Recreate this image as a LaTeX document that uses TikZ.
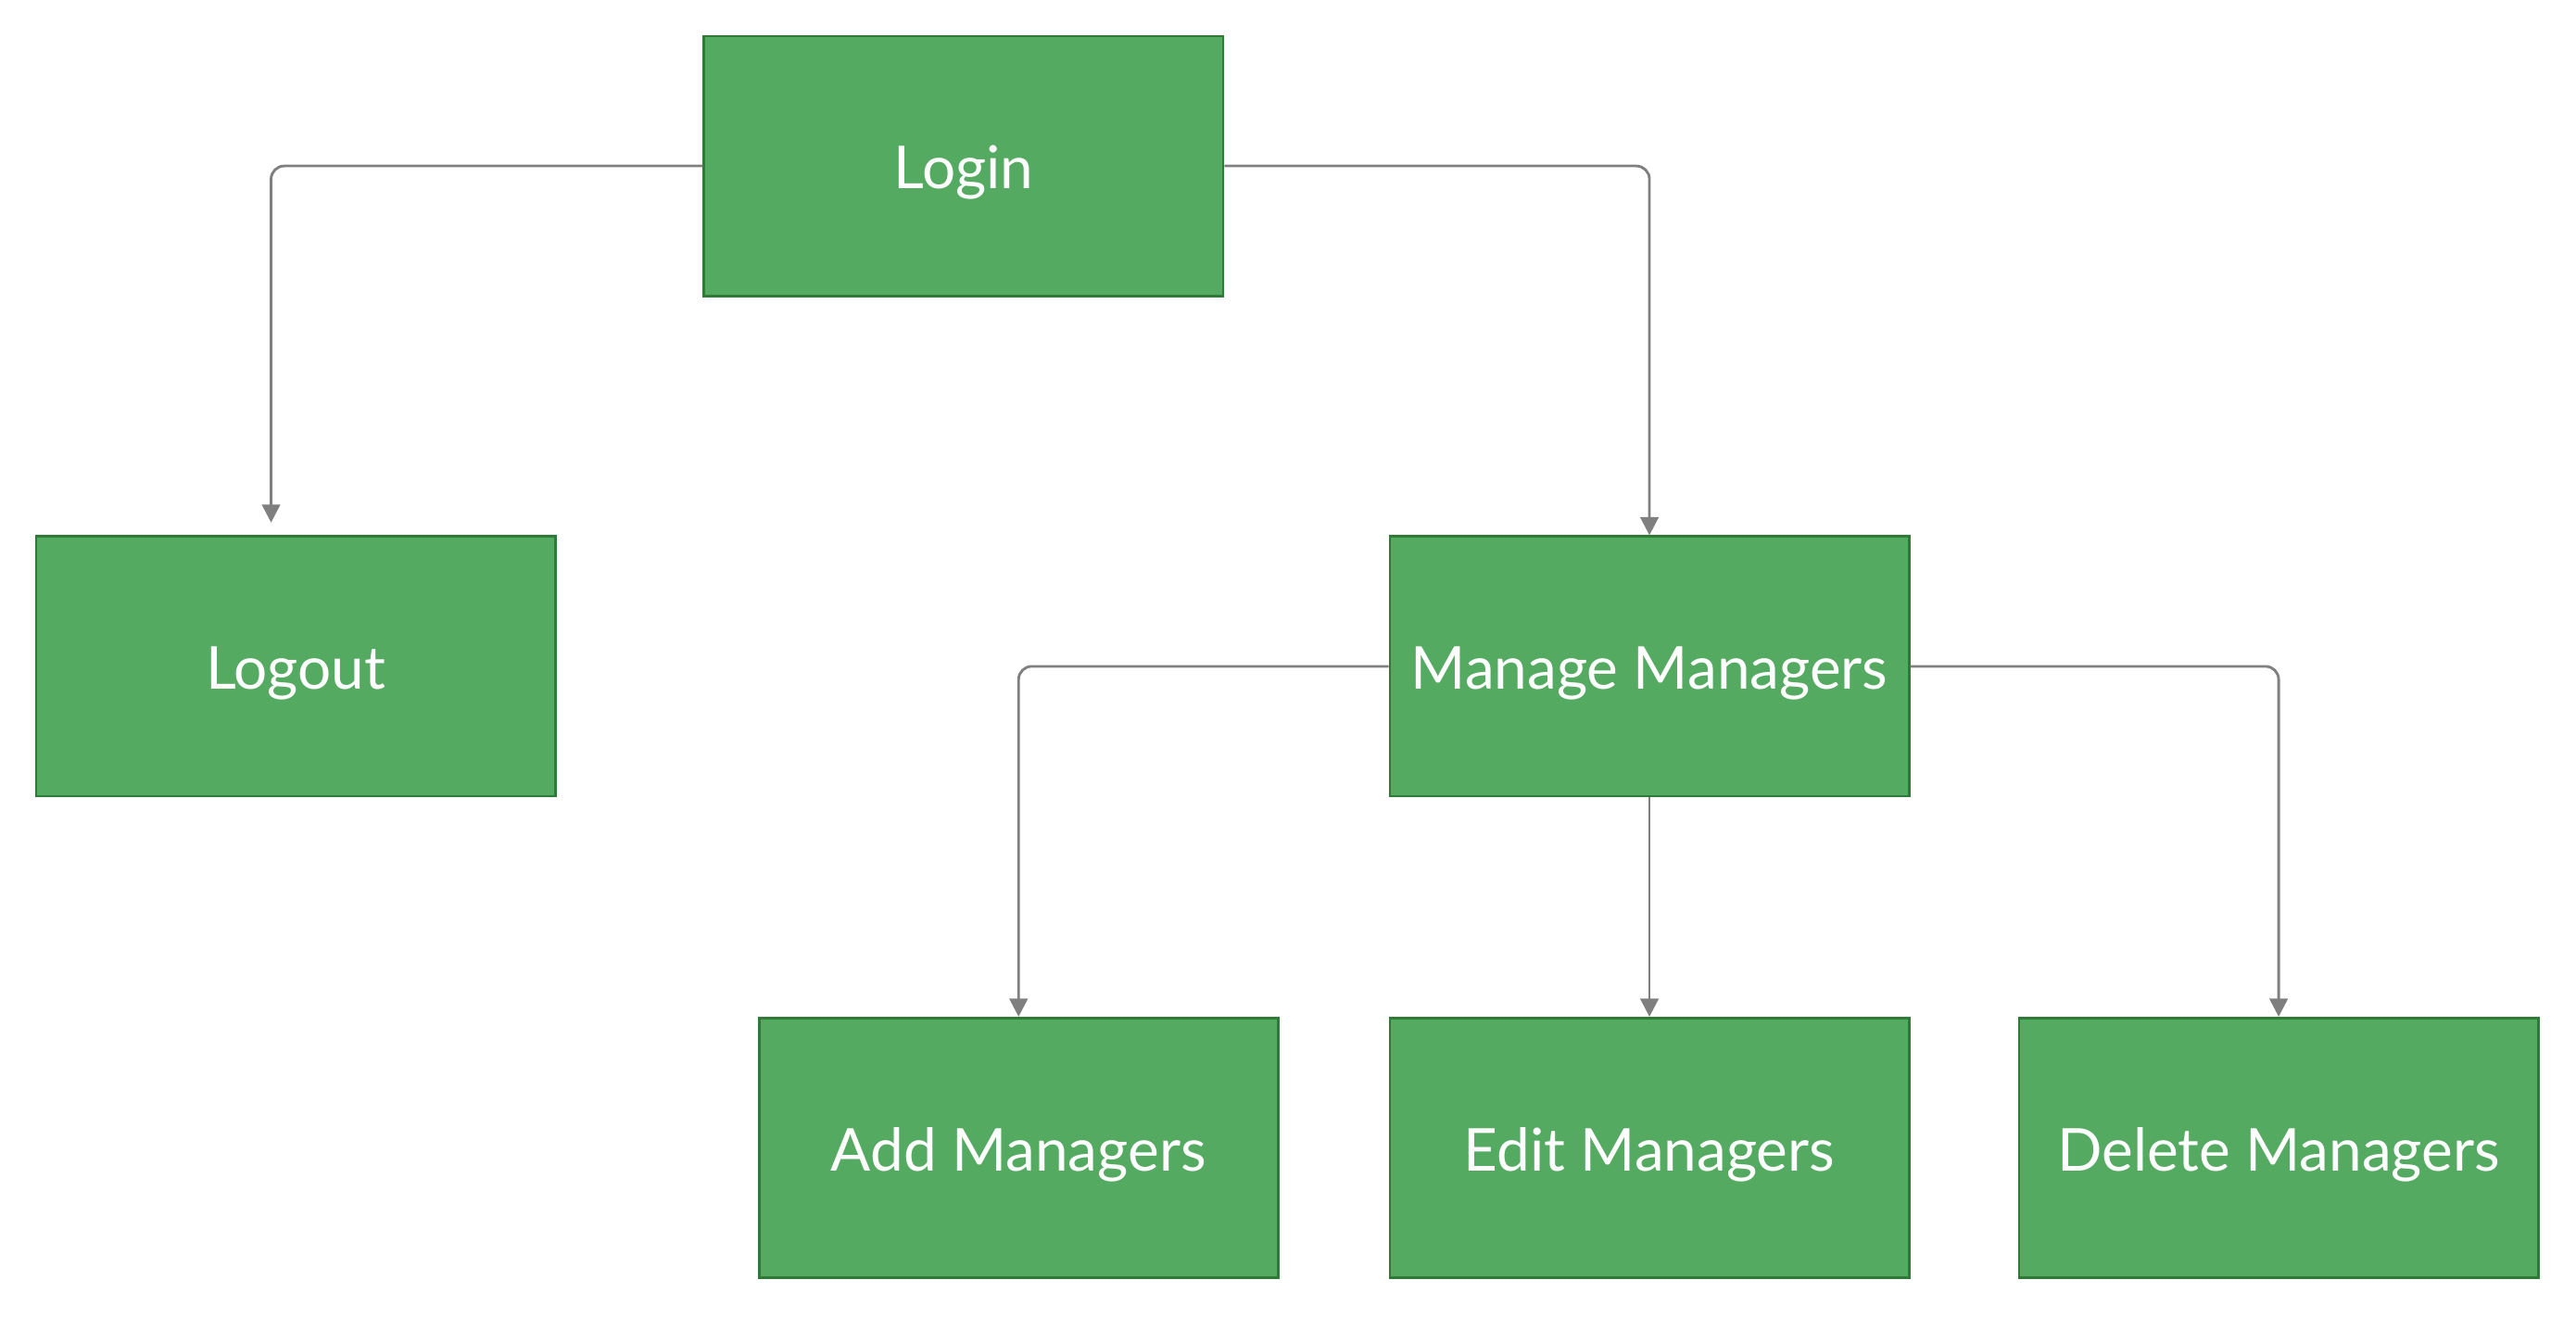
\documentclass[tikz,border=0pt]{standalone}
\usepackage{fontspec}
\setmainfont{Lato}
\usetikzlibrary{arrows.meta}
\definecolor{boxfill}{HTML}{55AA61}
\definecolor{boxline}{HTML}{2E7A36}
\definecolor{conncol}{HTML}{7F7F7F}
\begin{document}
\begin{tikzpicture}[x=1pt,y=-1pt,
  stepbox/.style={draw=boxline,line width=1.6pt,fill=boxfill,minimum width=316pt,minimum height=158pt,
    inner sep=0pt,text height=28pt,text depth=0pt,text=white,font=\fontsize{36}{40}\selectfont},
  conn/.style={draw=conncol,line width=1.6pt,rounded corners=8pt,-{Triangle[width=11pt,length=11pt]}}]
\useasboundingbox (0,0) rectangle (1568,801.5);
\node[stepbox] (login) at (586.5,101) {Login};
\node[stepbox] (logout) at (180,405.5) {Logout};
\node[stepbox] (manage) at (1004,405.5) {Manage Managers};
\node[stepbox] (add) at (620,698.5) {Add Managers};
\node[stepbox] (edit) at (1004,698.5) {Edit Managers};
\node[stepbox] (delete) at (1387,698.5) {Delete Managers};
\coordinate (lo) at (165,318);
\draw[conn] (login.west) -| (lo);
\draw[conn] (login.east) -| (manage.north);
\draw[conn] (manage.west) -| (add.north);
\draw[conn] (manage.south) -- (edit.north);
\draw[conn] (manage.east) -| (delete.north);
\end{tikzpicture}
\end{document}
